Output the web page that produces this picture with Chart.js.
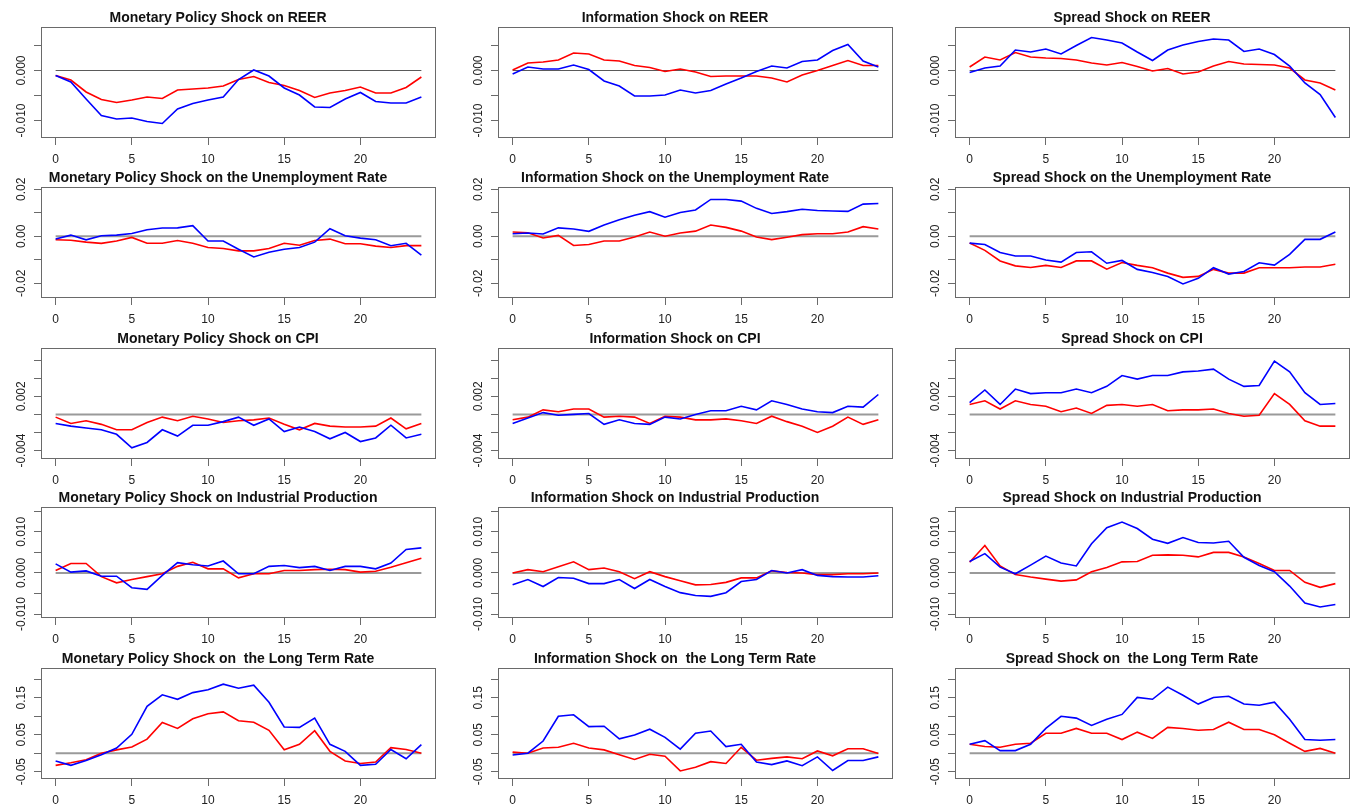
<!DOCTYPE html>
<html>
<head>
<meta charset="utf-8">
<script src="https://cdn.jsdelivr.net/npm/chart.js@4.4.1/dist/chart.umd.min.js"></script>
<style>
  html, body { margin: 0; padding: 0; background: #ffffff; overflow: hidden; }
  #wrap { position: relative; width: 1362px; height: 810px; background: #ffffff; }
  canvas { position: absolute; }
</style>
</head>
<body>
<div id="wrap"></div>
<script>
// ---------------- DATA ----------------
const horizons = [0,1,2,3,4,5,6,7,8,9,10,11,12,13,14,15,16,17,18,19,20,21,22,23,24];
const xTicks = [0,5,10,15,20];

// REER
const reerMonBlue = [-0.001,-0.0023,-0.0057,-0.009,-0.0097,-0.0095,-0.0102,-0.0106,-0.0077,-0.0066,-0.0059,-0.0053,-0.0018,0.0001,-0.0011,-0.0035,-0.0049,-0.0073,-0.0074,-0.0057,-0.0044,-0.0062,-0.0065,-0.0065,-0.0053];
const reerMonRed  = [-0.001,-0.0019,-0.0043,-0.0058,-0.0064,-0.0059,-0.0053,-0.0056,-0.0039,-0.0037,-0.0035,-0.0031,-0.0018,-0.0012,-0.0024,-0.003,-0.004,-0.0054,-0.0045,-0.004,-0.0033,-0.0045,-0.0045,-0.0034,-0.0013];
const reerInfBlue = [-0.0007,0.0007,0.0003,0.0003,0.0011,0.0002,-0.0021,-0.0031,-0.0051,-0.0051,-0.0049,-0.0039,-0.0045,-0.004,-0.0027,-0.0015,-0.0002,0.0009,0.0005,0.0018,0.0021,0.004,0.0052,0.0019,0.0007];
const reerInfRed  = [0.0001,0.0015,0.0017,0.0021,0.0035,0.0033,0.0021,0.0019,0.001,0.0006,-0.0002,0.0003,-0.0003,-0.0012,-0.0011,-0.0011,-0.0011,-0.0015,-0.0023,-0.0009,0,0.001,0.002,0.001,0.001];
const reerSprBlue = [-0.0004,0.0005,0.0009,0.0041,0.0037,0.0043,0.0033,0.005,0.0066,0.0061,0.0055,0.0037,0.002,0.0041,0.0051,0.0058,0.0063,0.0061,0.0038,0.0043,0.0032,0.0009,-0.0025,-0.0048,-0.0094];
const reerSprRed  = [0.0007,0.0027,0.0021,0.0036,0.0027,0.0025,0.0024,0.0021,0.0015,0.0011,0.0016,0.0008,-0.0001,0.0004,-0.0007,-0.0003,0.0009,0.0018,0.0013,0.0012,0.0011,0.0005,-0.0019,-0.0025,-0.0039];

// Unemployment rate
const unMonBlue = [-0.0012,0.0005,-0.0015,0.0002,0.0005,0.0012,0.0028,0.0035,0.0036,0.0045,-0.002,-0.002,-0.0055,-0.0088,-0.0068,-0.0055,-0.0048,-0.0025,0.0032,0.0002,-0.0008,-0.0015,-0.004,-0.003,-0.008];
const unMonRed  = [-0.0015,-0.0017,-0.0025,-0.003,-0.002,-0.0005,-0.003,-0.003,-0.0018,-0.003,-0.0048,-0.0052,-0.0062,-0.0062,-0.0052,-0.003,-0.0038,-0.0018,-0.0012,-0.0032,-0.0032,-0.0042,-0.0048,-0.004,-0.004];
const unInfBlue = [0.0011,0.0014,0.001,0.0036,0.0031,0.0021,0.0048,0.007,0.009,0.0105,0.0081,0.0101,0.0112,0.0157,0.0157,0.015,0.0119,0.0097,0.0105,0.0115,0.011,0.0108,0.0106,0.0137,0.014];
const unInfRed  = [0.0018,0.0015,-0.0007,0.0004,-0.0039,-0.0035,-0.002,-0.002,-0.0003,0.0018,0,0.0014,0.0022,0.0048,0.0038,0.0022,-0.0003,-0.0014,-0.0004,0.0007,0.0011,0.0011,0.0018,0.0041,0.0031];
const unSprBlue = [-0.0029,-0.0035,-0.0069,-0.0084,-0.0084,-0.0101,-0.011,-0.0069,-0.0066,-0.0115,-0.0103,-0.0141,-0.0154,-0.0171,-0.0203,-0.0179,-0.0134,-0.0161,-0.015,-0.0113,-0.0123,-0.0077,-0.0013,-0.0013,0.0018];
const unSprRed  = [-0.0029,-0.006,-0.0105,-0.0126,-0.0133,-0.0124,-0.0133,-0.0105,-0.0105,-0.014,-0.0112,-0.0124,-0.0134,-0.0157,-0.0175,-0.0171,-0.0141,-0.0157,-0.0157,-0.0134,-0.0134,-0.0134,-0.0131,-0.0131,-0.0119];

// CPI
const cpiMonBlue = [-0.001,-0.0013,-0.0015,-0.0017,-0.0022,-0.0037,-0.0031,-0.0017,-0.0024,-0.0012,-0.0012,-0.0008,-0.0003,-0.0012,-0.0005,-0.0019,-0.0014,-0.0019,-0.0027,-0.002,-0.003,-0.0026,-0.0012,-0.0026,-0.0022];
const cpiMonRed  = [-0.0003,-0.001,-0.0007,-0.0011,-0.0017,-0.0017,-0.0009,-0.0003,-0.0007,-0.0002,-0.0005,-0.0009,-0.0007,-0.0006,-0.0004,-0.0011,-0.0017,-0.001,-0.0013,-0.0014,-0.0014,-0.0013,-0.0004,-0.0016,-0.001];
const cpiInfBlue = [-0.001,-0.0004,0.0002,-0.0001,0,0.0001,-0.0011,-0.0006,-0.001,-0.0011,-0.0003,-0.0005,0,0.0004,0.0004,0.0009,0.0005,0.0015,0.0011,0.0006,0.0003,0.0002,0.0009,0.0008,0.0022];
const cpiInfRed  = [-0.0006,-0.0003,0.0005,0.0003,0.0006,0.0006,-0.0003,-0.0002,-0.0003,-0.001,-0.0002,-0.0003,-0.0006,-0.0006,-0.0005,-0.0007,-0.001,-0.0002,-0.0008,-0.0013,-0.002,-0.0013,-0.0003,-0.0011,-0.0006];
const cpiSprBlue = [0.0013,0.0027,0.0011,0.0028,0.0023,0.0024,0.0024,0.0028,0.0024,0.0031,0.0043,0.0039,0.0043,0.0043,0.0047,0.0048,0.005,0.0039,0.0031,0.0032,0.0059,0.0047,0.0024,0.0011,0.0012];
const cpiSprRed  = [0.0011,0.0015,0.0006,0.0015,0.0011,0.0009,0.0003,0.0007,0.0001,0.001,0.0011,0.0009,0.0011,0.0004,0.0005,0.0005,0.0006,0.0001,-0.0002,-0.0001,0.0023,0.0011,-0.0007,-0.0013,-0.0013];

// Industrial production
const ipMonBlue = [0.0022,0.0002,0.0005,-0.0008,-0.0008,-0.0036,-0.004,-0.0006,0.0025,0.002,0.0017,0.0029,-0.0002,-0.0002,0.0016,0.0018,0.0013,0.0016,0.0006,0.0016,0.0016,0.001,0.0024,0.0057,0.0061];
const ipMonRed  = [0.0006,0.0023,0.0023,-0.0009,-0.0024,-0.0016,-0.0009,-0.0002,0.0016,0.0026,0.001,0.001,-0.0012,-0.0002,-0.0002,0.0006,0.0006,0.0008,0.0009,0.0008,0.0002,0.0004,0.0014,0.0025,0.0036];
const ipInfBlue = [-0.0029,-0.0016,-0.0033,-0.0011,-0.0013,-0.0026,-0.0026,-0.0016,-0.0038,-0.0016,-0.0033,-0.0048,-0.0055,-0.0057,-0.0048,-0.0021,-0.0016,0.0006,0,0.0008,-0.0006,-0.0009,-0.001,-0.001,-0.0007];
const ipInfRed  = [0,0.0008,0.0003,0.0015,0.0027,0.0008,0.0012,0.0003,-0.0014,0.0003,-0.0009,-0.0019,-0.0029,-0.0028,-0.0023,-0.0012,-0.0012,0.0005,0.0001,0,-0.0004,-0.0004,-0.0002,-0.0002,0];
const ipSprBlue = [0.0028,0.0047,0.0014,-0.0002,0.0019,0.0041,0.0024,0.0017,0.0071,0.011,0.0124,0.0108,0.0082,0.0072,0.0086,0.0074,0.0073,0.0077,0.0038,0.0018,0.0003,-0.0032,-0.0073,-0.0083,-0.0077];
const ipSprRed  = [0.0026,0.0067,0.0017,-0.0004,-0.001,-0.0015,-0.002,-0.0017,0.0003,0.0013,0.0027,0.0028,0.0043,0.0044,0.0043,0.0039,0.005,0.005,0.0039,0.0023,0.0006,0.0006,-0.0023,-0.0035,-0.0026];

// Long term rate
const ltMonBlue = [-0.021,-0.033,-0.02,-0.004,0.014,0.051,0.127,0.158,0.146,0.164,0.172,0.187,0.176,0.184,0.138,0.071,0.07,0.095,0.024,0.005,-0.033,-0.03,0.01,-0.015,0.023];
const ltMonRed  = [-0.033,-0.026,-0.018,0,0.009,0.017,0.038,0.083,0.067,0.093,0.107,0.112,0.088,0.084,0.062,0.009,0.024,0.061,0.005,-0.021,-0.028,-0.024,0.015,0.01,0];
const ltInfBlue = [-0.005,0,0.033,0.1,0.104,0.072,0.073,0.039,0.049,0.065,0.043,0.011,0.054,0.06,0.018,0.024,-0.024,-0.031,-0.021,-0.034,-0.01,-0.047,-0.02,-0.02,-0.01];
const ltInfRed  = [0.003,0,0.014,0.016,0.027,0.014,0.009,-0.004,-0.017,-0.003,-0.008,-0.048,-0.038,-0.023,-0.028,0.016,-0.019,-0.014,-0.01,-0.015,0.006,-0.007,0.012,0.012,-0.001];
const ltSprBlue = [0.024,0.034,0.007,0.007,0.024,0.067,0.1,0.095,0.075,0.092,0.105,0.151,0.146,0.179,0.157,0.133,0.151,0.154,0.133,0.13,0.138,0.092,0.037,0.035,0.037];
const ltSprRed  = [0.024,0.018,0.016,0.024,0.027,0.054,0.054,0.067,0.054,0.054,0.037,0.057,0.04,0.07,0.067,0.062,0.064,0.084,0.064,0.064,0.05,0.027,0.005,0.013,0];

// Titles
const titlesRow1 = ["Monetary Policy Shock on REER","Information Shock on REER","Spread Shock on REER"];
const titlesRow2 = ["Monetary Policy Shock on the Unemployment Rate","Information Shock on the Unemployment Rate","Spread Shock on the Unemployment Rate"];
const titlesRow3 = ["Monetary Policy Shock on CPI","Information Shock on CPI","Spread Shock on CPI"];
const titlesRow4 = ["Monetary Policy Shock on Industrial Production","Information Shock on Industrial Production","Spread Shock on Industrial Production"];
const titlesRow5 = ["Monetary Policy Shock on  the Long Term Rate","Information Shock on  the Long Term Rate","Spread Shock on  the Long Term Rate"];

// Y axis ticks & labels per row
const yTicksREER = [-0.01,-0.005,0,0.005];
const yLabelsREER = ["-0.010","","0.000",""];
const yTicksUnemp = [-0.02,-0.01,0,0.01,0.02];
const yLabelsUnemp = ["-0.02","","0.00","","0.02"];
const yTicksCPI = [-0.004,-0.002,0,0.002,0.004,0.006];
const yLabelsCPI = ["-0.004","","","0.002","",""];
const yTicksIP = [-0.01,-0.005,0,0.005,0.01,0.015];
const yLabelsIP = ["-0.010","","0.000","","0.010",""];
const yTicksLT = [-0.05,0,0.05,0.1,0.15,0.2];
const yLabelsLT = ["-0.05","","0.05","","0.15",""];

// Axis ranges per row
const yRangeREER = [-0.0135, 0.0087];
const yRangeUnemp = [-0.0263, 0.021];
const yRangeCPI = [-0.00493, 0.00734];
const yRangeIP = [-0.01097, 0.01605];
const yRangeLT = [-0.0699, 0.2307];
const xRange = [-0.96, 24.96];

// ---------------- LAYOUT ----------------
const rows = [
  { titles: titlesRow1, ticks: yTicksREER, labels: yLabelsREER, range: yRangeREER, series: [[reerMonBlue,reerMonRed],[reerInfBlue,reerInfRed],[reerSprBlue,reerSprRed]], zeroColor: '#5a5a5a', zeroWidth: 1.2 },
  { titles: titlesRow2, ticks: yTicksUnemp, labels: yLabelsUnemp, range: yRangeUnemp, series: [[unMonBlue,unMonRed],[unInfBlue,unInfRed],[unSprBlue,unSprRed]], zeroColor: '#9a9a9a', zeroWidth: 2 },
  { titles: titlesRow3, ticks: yTicksCPI, labels: yLabelsCPI, range: yRangeCPI, series: [[cpiMonBlue,cpiMonRed],[cpiInfBlue,cpiInfRed],[cpiSprBlue,cpiSprRed]], zeroColor: '#9a9a9a', zeroWidth: 2 },
  { titles: titlesRow4, ticks: yTicksIP, labels: yLabelsIP, range: yRangeIP, series: [[ipMonBlue,ipMonRed],[ipInfBlue,ipInfRed],[ipSprBlue,ipSprRed]], zeroColor: '#9a9a9a', zeroWidth: 2 },
  { titles: titlesRow5, ticks: yTicksLT, labels: yLabelsLT, range: yRangeLT, series: [[ltMonBlue,ltMonRed],[ltInfBlue,ltInfRed],[ltSprBlue,ltSprRed]], zeroColor: '#9a9a9a', zeroWidth: 2 }
];

const FONT = "'Liberation Sans', Arial, Helvetica, sans-serif";
const colLeft = [0, 457, 914];
const rowTop = [0, 160, 321, 480, 641];
const CANVAS_W = 436, CANVAS_H = 180;
const BOX_TOP = 27, BOX_H = 111, Y_AXIS_W = 41;

const panelPlugin = {
  id: 'panelDeco',
  beforeDatasetsDraw(chart, args, opts) {
    const ctx = chart.ctx;
    const xs = chart.scales.x, ys = chart.scales.y;
    const y0 = ys.getPixelForValue(0);
    ctx.save();
    ctx.strokeStyle = opts.zeroColor;
    ctx.lineWidth = opts.zeroWidth;
    ctx.beginPath();
    ctx.moveTo(xs.getPixelForValue(horizons[0]), y0);
    ctx.lineTo(xs.getPixelForValue(horizons[horizons.length - 1]), y0);
    ctx.stroke();
    ctx.restore();
  },
  afterDraw(chart, args, opts) {
    const ctx = chart.ctx;
    const a = chart.chartArea;
    const ys = chart.scales.y;
    ctx.save();
    ctx.strokeStyle = '#6a6a6a';
    ctx.lineWidth = 1;
    ctx.strokeRect(Math.round(a.left) + 0.5, Math.round(a.top) + 0.5, Math.round(a.right - a.left) - 1, Math.round(a.bottom - a.top) - 1);
    ctx.fillStyle = '#222';
    ctx.font = '12px ' + FONT;
    ctx.textAlign = 'center';
    ctx.textBaseline = 'middle';
    opts.ticks.forEach((v, i) => {
      const t = opts.labels[i];
      if (!t) return;
      const py = ys.getPixelForValue(v);
      ctx.save();
      ctx.translate(22, py);
      ctx.rotate(-Math.PI / 2);
      ctx.fillText(t, 0, 0);
      ctx.restore();
    });
    ctx.restore();
  }
};

const wrap = document.getElementById('wrap');
rows.forEach((row, r) => {
  row.series.forEach((pair, c) => {
    const cv = document.createElement('canvas');
    cv.width = CANVAS_W; cv.height = CANVAS_H;
    cv.style.left = colLeft[c] + 'px';
    cv.style.top = rowTop[r] + 'px';
    cv.style.width = CANVAS_W + 'px';
    cv.style.height = CANVAS_H + 'px';
    wrap.appendChild(cv);
    new Chart(cv, {
      type: 'line',
      data: {
        labels: horizons,
        datasets: [
          { data: pair[0], borderColor: '#0000ff', borderWidth: 1.6, pointRadius: 0, tension: 0, fill: false },
          { data: pair[1], borderColor: '#ff0000', borderWidth: 1.6, pointRadius: 0, tension: 0, fill: false }
        ]
      },
      options: {
        responsive: false,
        animation: false,
        devicePixelRatio: 1,
        layout: { padding: 0 },
        plugins: {
          legend: { display: false },
          tooltip: { enabled: false },
          title: {
            display: true,
            text: row.titles[c],
            color: '#111',
            font: { family: FONT, size: 14, weight: 'bold', lineHeight: 1.2 },
            padding: { top: 9.9, bottom: 0.3 }
          },
          panelDeco: { ticks: row.ticks, labels: row.labels, zeroColor: row.zeroColor, zeroWidth: row.zeroWidth }
        },
        scales: {
          x: {
            type: 'linear',
            min: xRange[0], max: xRange[1],
            afterBuildTicks: s => { s.ticks = xTicks.map(v => ({ value: v })); },
            afterFit: s => { s.height = CANVAS_H - BOX_TOP - BOX_H; },
            grid: { display: true, drawOnChartArea: false, drawTicks: true, tickLength: 7, color: '#6a6a6a', tickWidth: 1 },
            border: { display: false },
            ticks: { autoSkip: false, maxRotation: 0, padding: 7, color: '#222', font: { family: FONT, size: 12 }, callback: v => String(v) }
          },
          y: {
            type: 'linear',
            min: row.range[0], max: row.range[1],
            afterBuildTicks: s => { s.ticks = row.ticks.map(v => ({ value: v })); },
            afterFit: s => { s.width = Y_AXIS_W; },
            grid: { display: true, drawOnChartArea: false, drawTicks: true, tickLength: 7, color: '#6a6a6a', tickWidth: 1 },
            border: { display: false },
            ticks: { display: false }
          }
        }
      },
      plugins: [panelPlugin]
    });
  });
});
</script>
</body>
</html>
